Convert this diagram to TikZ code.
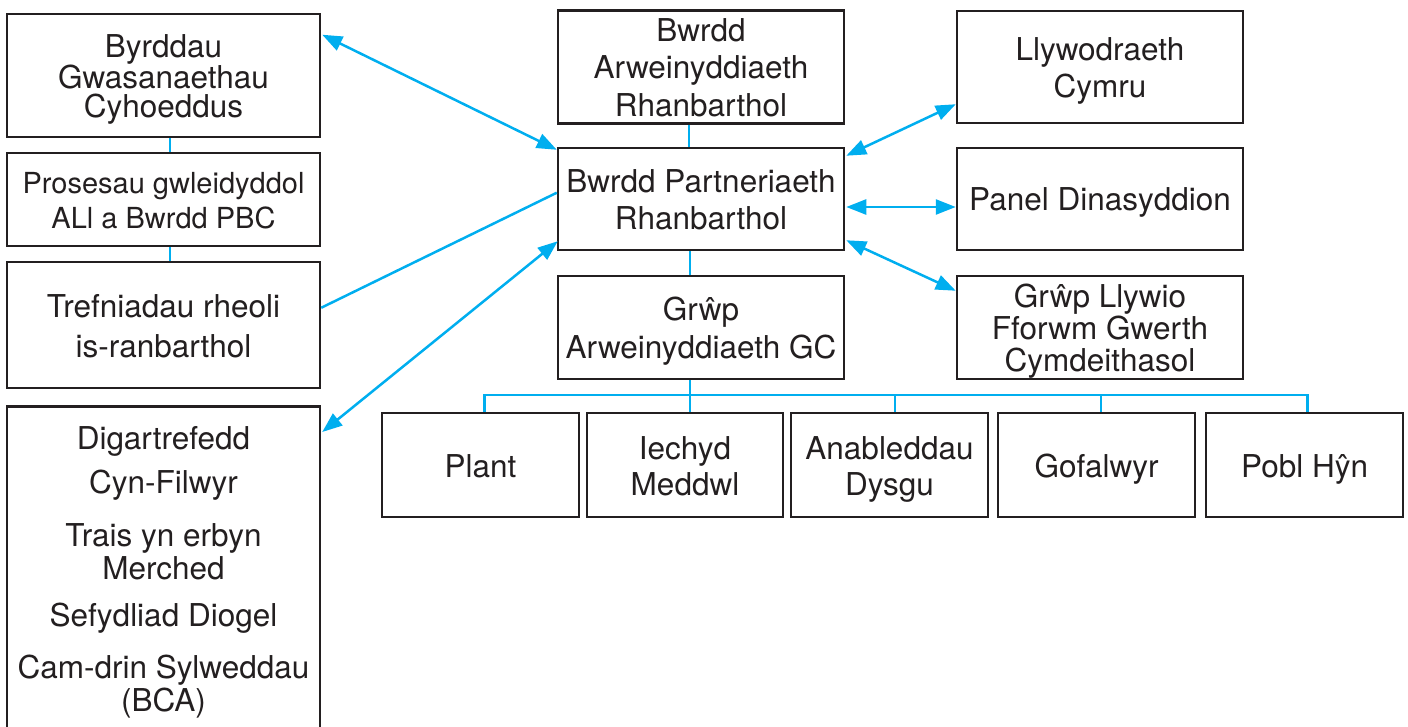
\documentclass[tikz,border=0pt]{standalone}
\usepackage{fontspec}
\setmainfont{TeX Gyre Heros}
\usetikzlibrary{arrows.meta,calc}
\definecolor{ink}{HTML}{231F20}
\definecolor{cyanline}{HTML}{00AEEF}
\newcommand\topst{\rule{0pt}{31pt}}
\newcommand\botst{\rule[-7pt]{0pt}{7pt}}
\begin{document}
\begin{tikzpicture}[x=1pt,y=-1pt,
  box/.style={draw=ink,line width=2.5pt,inner sep=0pt,align=center,text=ink,
    font=\fontsize{31.5}{37.5}\selectfont},
  lbox/.style={box,minimum width=313pt},
  mbox/.style={box,minimum width=286pt},
  sbox/.style={box,minimum width=197pt,minimum height=104pt},
  link/.style={draw=cyanline,line width=2.5pt},
  dbl/.style={link,{Triangle[length=20pt,width=15pt]}-{Triangle[length=20pt,width=15pt]}}]
\useasboundingbox (0,0) rectangle (1408,727);
\clip (0,0) rectangle (1408,727);
% left column
\node[lbox,minimum height=123pt,font=\fontsize{31.5}{29}\selectfont] (byr) at (163.5,75.5) {\topst Byrddau\\Gwasanaethau\\Cyhoeddus\botst};
\node[lbox,minimum height=93pt,font=\fontsize{29}{35}\selectfont] (pros) at (163.5,199.5) {\topst Prosesau gwleidyddol\\ALl a Bwrdd PBC\botst};
\node[lbox,minimum height=126pt,font=\fontsize{31.5}{40}\selectfont] (tref) at (163.5,325) {\topst Trefniadau rheoli\\is-ranbarthol\botst};
\node[lbox,minimum height=400pt,anchor=north] (dig) at (163.5,405) {};
\node[anchor=north,align=center,inner sep=0pt,text=ink,font=\fontsize{31.5}{33}\selectfont] (digtext) at (163.5,426)
  {Digartrefedd\\[11pt]Cyn-Filwyr\\[20pt]Trais yn erbyn\\Merched\\[14pt]Sefydliad Diogel\\[19pt]Cam-drin Sylweddau\\[0pt](BCA)};
% centre column
\node[mbox,minimum height=112pt] (arw) at (701,67) {\topst Bwrdd\\Arweinyddiaeth\\Rhanbarthol\botst};
\node[mbox,minimum height=102pt,font=\fontsize{31.5}{36.5}\selectfont] (bpr) at (701,199) {\topst Bwrdd Partneriaeth\\Rhanbarthol\botst};
\node[mbox,minimum height=103pt] (grp) at (701,327.5) {\topst Grŵp\\Arweinyddiaeth GC\botst};
% right column
\node[mbox,minimum height=112pt] (llyw) at (1100,67) {\topst Llywodraeth\\Cymru\botst};
\node[mbox,minimum height=102pt] (panel) at (1100,199) {\topst Panel Dinasyddion\botst};
\node[mbox,minimum height=103pt,font=\fontsize{31.5}{32}\selectfont] (llywio) at (1100,327.5) {\topst Grŵp Llywio\\Fforwm Gwerth\\Cymdeithasol\botst};
% bottom row
\node[sbox] (plant) at (480.5,465) {\topst Plant\botst};
\node[sbox,minimum width=196pt,font=\fontsize{31.5}{36}\selectfont] (iech) at (685,465) {\topst Iechyd\\Meddwl\botst};
\node[sbox,font=\fontsize{31.5}{36}\selectfont] (anab) at (889.5,465) {\topst Anableddau\\Dysgu\botst};
\node[sbox] (gof) at (1096.5,465) {\topst Gofalwyr\botst};
\node[sbox] (pobl) at (1304.5,465) {\topst Pobl Hŷn\botst};
% plain connectors
\draw[link] ([xshift=6.5pt]byr.south) -- ([xshift=6.5pt]pros.north);
\draw[link] ([xshift=6.5pt]pros.south) -- ([xshift=6.5pt]tref.north);
\draw[link] ([xshift=-12pt]arw.south) -- ([xshift=-12pt]bpr.north);
\draw[link] ([xshift=-11pt]bpr.south) -- ([xshift=-11pt]grp.north);
\draw[link] ([xshift=-11pt]grp.south) -- ([xshift=5pt]iech.north);
\draw[link] ([xshift=4pt]plant.north) -- ++(0,-17) -| ([xshift=3pt]pobl.north);
\draw[link] ([xshift=5.5pt]anab.north) -- ++(0,-17);
\draw[link] ([xshift=4.5pt]gof.north) -- ++(0,-17);
\draw[link] ($(tref.north east)+(0,47)$) -- ($(bpr.north west)+(0,46)$);
% double arrows
\draw[dbl] ($(byr.north east)+(1,22)$) -- ($(bpr.north west)+(0,3)$);
\draw[dbl] ($(dig.north east)+(1,27)$) -- ($(bpr.south west)+(1,-10)$);
\draw[dbl] ($(bpr.north east)+(1,9)$) -- ($(llyw.south west)+(0,-20)$);
\draw[dbl] ($(bpr.east)+(1,8)$) -- ($(panel.west)+(0,8)$);
\draw[dbl] ($(bpr.south east)+(1,-11)$) -- ($(llywio.north west)+(0,16)$);
\end{tikzpicture}
\end{document}
